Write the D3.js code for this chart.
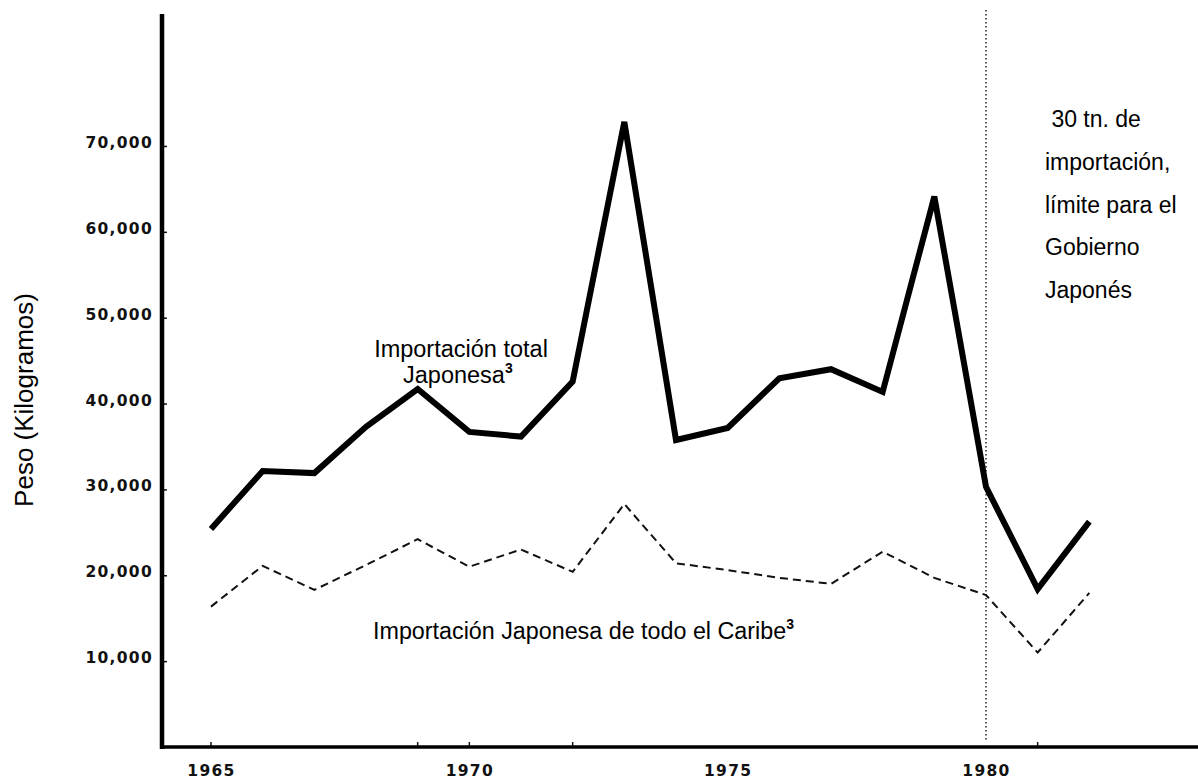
<!DOCTYPE html>
<html>
<head>
<meta charset="utf-8">
<script src="https://cdn.jsdelivr.net/npm/d3@7"></script>
<style>
  html, body { margin: 0; padding: 0; background: #fff; }
  svg { display: block; }
</style>
</head>
<body>
<svg id="chart" width="1198" height="782"></svg>
<script>
// ---- data ----
const years = [1965,1966,1967,1968,1969,1970,1971,1972,1973,1974,1975,1976,1977,1978,1979,1980,1981,1982];
const totalJapon = [25400,32150,31900,37300,41700,36700,36150,42550,72800,35750,37150,42950,44000,41350,64100,30300,18400,26250];
const caribeJapon = [16350,21100,18300,21200,24200,21000,23000,20400,28300,21400,20600,19700,19000,22750,19700,17700,11000,17950];
const yTickValues = [10000,20000,30000,40000,50000,60000,70000];
const xTickLabels = [1965,1970,1975,1980];
const xMinorTicks = [1965,1969,1970,1972,1981];
const limitYear = 1980;
const limitText = [" 30 tn. de","importación,","límite para el","Gobierno","Japonés"];

// ---- layout ----
const svg = d3.select("#chart");
const x = d3.scaleLinear().domain([1965, 1980]).range([211, 986]);
const y = d3.scaleLinear().domain([0, 85370]).range([747, 14]);
const axisX0 = 162, axisY0 = 747;

const tickFont = "'DejaVu Sans', Verdana, sans-serif";
const textFont = "'Liberation Sans', Arial, Helvetica, sans-serif";

// y axis
const yAxis = d3.axisLeft(y).tickValues(yTickValues).tickFormat(d3.format(","))
  .tickSizeInner(-5).tickSizeOuter(0).tickPadding(9);
const gy = svg.append("g").attr("transform", `translate(${axisX0},0)`).call(yAxis);
gy.select(".domain").remove();
gy.selectAll(".tick line").attr("stroke", "#111").attr("stroke-width", 1.5);
gy.selectAll(".tick text")
  .attr("font-family", tickFont).attr("font-weight", "bold")
  .attr("font-size", 15.5).attr("letter-spacing", 1.3).attr("fill", "#111")
  .attr("dy", "0.1em");

// x axis
const xAxis = d3.axisBottom(x).tickValues(xTickLabels).tickFormat(d3.format("d"))
  .tickSize(0).tickPadding(18);
const gx = svg.append("g").attr("transform", `translate(0,${axisY0})`).call(xAxis);
gx.select(".domain").remove();
gx.selectAll(".tick text")
  .attr("font-family", tickFont).attr("font-weight", "bold")
  .attr("font-size", 15.5).attr("letter-spacing", 1.3).attr("fill", "#111");

// minor ticks on x axis
svg.append("g").selectAll("line").data(xMinorTicks).join("line")
  .attr("x1", d => x(d)).attr("x2", d => x(d))
  .attr("y1", axisY0).attr("y2", axisY0 - 5)
  .attr("stroke", "#111").attr("stroke-width", 1.5);

// axis lines
svg.append("line").attr("x1", axisX0).attr("x2", axisX0).attr("y1", 14).attr("y2", axisY0 + 2)
  .attr("stroke", "#000").attr("stroke-width", 4.5);
svg.append("line").attr("x1", axisX0 - 2).attr("x2", 1198).attr("y1", axisY0).attr("y2", axisY0)
  .attr("stroke", "#000").attr("stroke-width", 3.5);

// vertical dotted limit line
svg.append("line").attr("x1", x(limitYear)).attr("x2", x(limitYear))
  .attr("y1", 10).attr("y2", 740)
  .attr("stroke", "#333").attr("stroke-width", 1.6).attr("stroke-dasharray", "1.6,2.4");

// lines
const line = d3.line().x((d, i) => x(years[i])).y(d => y(d));
svg.append("path").datum(caribeJapon).attr("d", line)
  .attr("fill", "none").attr("stroke", "#111").attr("stroke-width", 2)
  .attr("stroke-dasharray", "8,5");
svg.append("path").datum(totalJapon).attr("d", line)
  .attr("fill", "none").attr("stroke", "#000").attr("stroke-width", 6)
  .attr("stroke-linejoin", "miter").attr("stroke-miterlimit", 3);

// y title
svg.append("text")
  .attr("transform", "translate(33,400) rotate(-90)")
  .attr("text-anchor", "middle").attr("font-family", textFont).attr("font-size", 26)
  .attr("fill", "#000").text("Peso (Kilogramos)");

// annotation: total
const t1 = svg.append("text").attr("font-family", textFont).attr("font-size", 23.5)
  .attr("fill", "#000").attr("text-anchor", "middle");
t1.append("tspan").attr("x", 461).attr("y", 357).text("Importación total");
const t2 = svg.append("text").attr("font-family", textFont).attr("font-size", 23.5)
  .attr("fill", "#000").attr("x", 403).attr("y", 383);
t2.append("tspan").text("Japonesa");
t2.append("tspan").attr("font-size", 14).attr("font-weight", "bold").attr("dy", -10).text("3");

// annotation: caribe
const t3 = svg.append("text").attr("font-family", textFont).attr("font-size", 23.3)
  .attr("fill", "#000").attr("x", 373).attr("y", 639);
t3.append("tspan").text("Importación Japonesa de todo el Caribe");
t3.append("tspan").attr("font-size", 14).attr("font-weight", "bold").attr("dy", -10).text("3");

// limit text
const t4 = svg.append("text").attr("font-family", textFont).attr("font-size", 23)
  .attr("fill", "#000").attr("xml:space", "preserve");
t4.selectAll("tspan").data(limitText).join("tspan")
  .attr("x", 1045).attr("y", (d, i) => 127 + i * 42.8)
  .text(d => d);
</script>
</body>
</html>
